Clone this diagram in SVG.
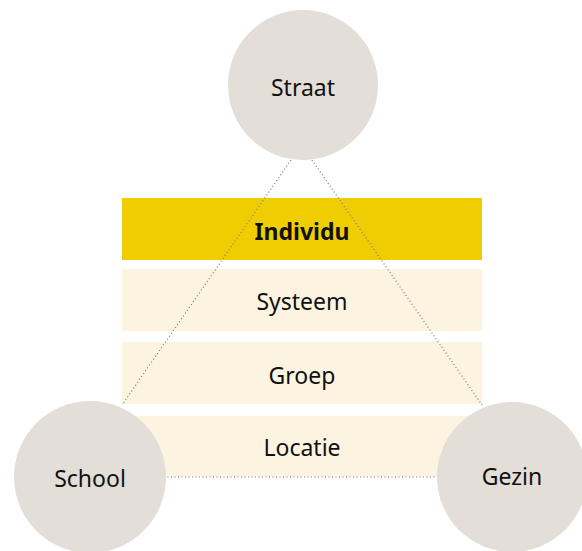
<svg xmlns="http://www.w3.org/2000/svg" width="582" height="551" viewBox="0 0 582 551">
<style>
.band{fill:#FCF4E0}
.top{fill:#F0CD00}
.node{fill:#E3DED8}
text{font-family:"Noto Sans","Liberation Sans",sans-serif;font-size:23px;fill:#111;text-anchor:middle;dominant-baseline:central}
.b{font-weight:bold}
.conn{stroke:#777;stroke-width:1.2;stroke-dasharray:1 2.5;fill:none}
</style>
<rect width="582" height="551" fill="#fff"/>
<g id="individu"><rect class="top" x="122" y="198" width="360" height="62"/><text class="b" x="302" y="231">Individu</text></g>
<g id="systeem"><rect class="band" x="122" y="269" width="360" height="62"/><text x="302" y="301">Systeem</text></g>
<g id="groep"><rect class="band" x="122" y="342" width="360" height="62"/><text x="302" y="375">Groep</text></g>
<g id="locatie"><rect class="band" x="122" y="416" width="360" height="61"/><text x="302" y="447">Locatie</text></g>
<g id="connectors">
<line class="conn" x1="291" y1="160" x2="122" y2="405"/>
<line class="conn" x1="312" y1="160" x2="482" y2="405"/>
<line class="conn" x1="150" y1="477" x2="450" y2="477"/>
</g>
<g id="straat"><circle class="node" cx="303" cy="85" r="75"/><text x="303" y="87">Straat</text></g>
<g id="school"><circle class="node" cx="90" cy="477" r="76"/><text x="90" y="478">School</text></g>
<g id="gezin"><circle class="node" cx="512" cy="477" r="75"/><text x="512" y="476">Gezin</text></g>
</svg>
